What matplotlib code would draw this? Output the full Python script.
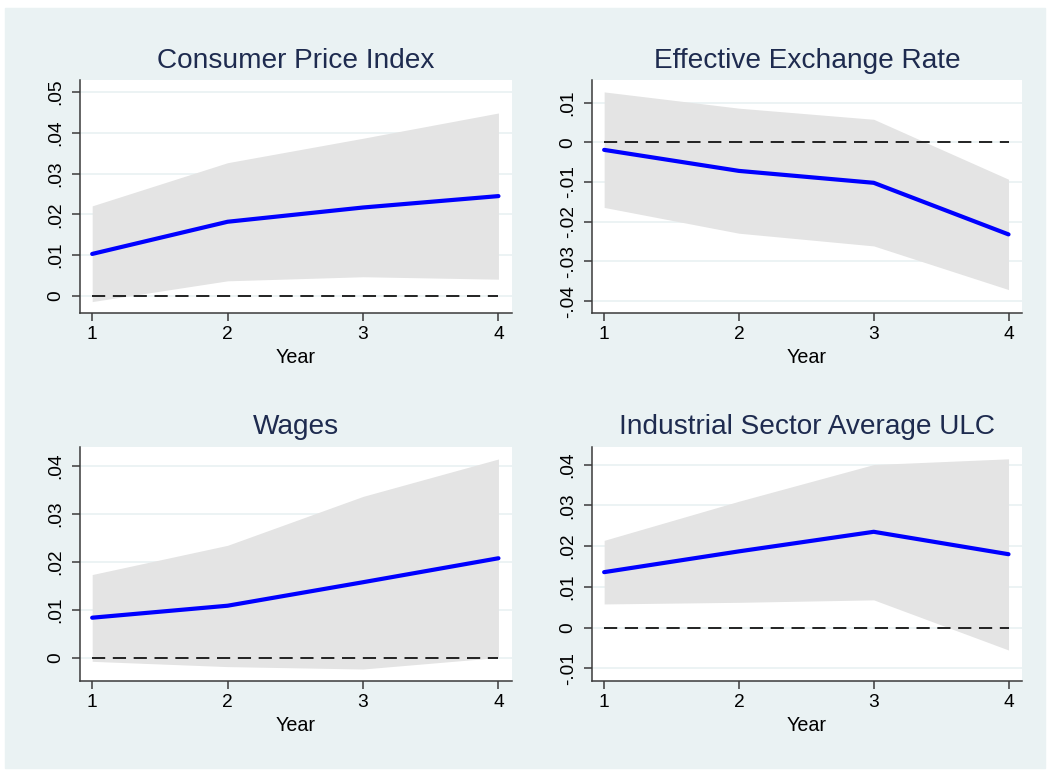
"""Impulse responses (4 panels) with confidence bands, Stata s2color look."""

import matplotlib
matplotlib.use("Agg")
import matplotlib.pyplot as plt
from matplotlib.patches import Rectangle
from matplotlib.ticker import FuncFormatter

plt.rcParams["font.family"] = ["Liberation Sans", "DejaVu Sans"]
plt.rcParams["lines.scale_dashes"] = False

years = [1, 2, 3, 4]

titles = ["Consumer Price Index", "Effective Exchange Rate",
          "Wages", "Industrial Sector Average ULC"]

cpi_irf = [0.0103, 0.0182, 0.0217, 0.0245]
cpi_lo = [-0.0014, 0.0037, 0.0047, 0.0041]
cpi_hi = [0.0221, 0.0327, 0.0387, 0.0449]

eer_irf = [-0.0019, -0.0072, -0.0102, -0.0232]
eer_lo = [-0.0164, -0.0229, -0.0261, -0.0371]
eer_hi = [0.0127, 0.0086, 0.0058, -0.0093]

wage_irf = [0.0083, 0.0108, 0.0157, 0.0207]
wage_lo = [-0.0008, -0.0019, -0.0024, 0.0000]
wage_hi = [0.0173, 0.0234, 0.0336, 0.0414]

ulc_irf = [0.0136, 0.0187, 0.0235, 0.0180]
ulc_lo = [0.0058, 0.0062, 0.0068, -0.0055]
ulc_hi = [0.0214, 0.0310, 0.0400, 0.0414]

cpi_ticks = [0, 0.01, 0.02, 0.03, 0.04, 0.05]
eer_ticks = [-0.04, -0.03, -0.02, -0.01, 0, 0.01]
wage_ticks = [0, 0.01, 0.02, 0.03, 0.04]
ulc_ticks = [-0.01, 0, 0.01, 0.02, 0.03, 0.04]

BG = "#EAF2F3"
BAND = "#E4E4E4"
TITLE_C = "#1E2B4F"
AXIS_C = "#3A3A3A"

W, H = 1050, 771


def stata_fmt(v, _pos=None):
    v = round(v, 4)
    if abs(v) < 1e-9:
        return "0"
    s = f"{v:g}"
    return s.replace("0.", ".")


def px_axes(fig, x0, y0, x1, y1):
    return fig.add_axes([x0 / W, 1 - y1 / H, (x1 - x0) / W, (y1 - y0) / H])


def panel(ax, title, irf, lo, hi, ticks, ylim):
    ax.set_facecolor("white")
    for y in ticks:
        ax.axhline(y, color=BG, lw=1.3, zorder=0)
    ax.fill_between(years, lo, hi, color=BAND, lw=0, zorder=1)
    ax.plot(years, [0] * len(years), color="black", lw=1.2,
            dashes=(9.5, 5.5), zorder=2)
    ax.plot(years, irf, color="#0000FF", lw=3.0, zorder=3,
            solid_capstyle="round")
    ax.set_xlim(0.91, 4.1)
    ax.set_ylim(*ylim)
    ax.set_xticks(years)
    ax.set_yticks(ticks)
    ax.yaxis.set_major_formatter(FuncFormatter(stata_fmt))
    for lab in ax.get_yticklabels():
        lab.set_rotation(90)
        lab.set_va("center")
    ax.tick_params(axis="both", labelsize=13.8, colors=AXIS_C,
                   labelcolor="black", width=1.1, length=6)
    ax.tick_params(axis="y", pad=5)
    ax.tick_params(axis="x", pad=3.5)
    ax.spines[["top", "right"]].set_visible(False)
    for sp in ("left", "bottom"):
        ax.spines[sp].set_color(AXIS_C)
        ax.spines[sp].set_linewidth(1.1)
    ax.set_xlabel("Year", fontsize=14.2, labelpad=3.5)
    ax.set_title(title, fontsize=20.2, color=TITLE_C, pad=9)


fig = plt.figure(figsize=(W / 100, H / 100), dpi=100)
fig.patch.set_facecolor("white")
fig.add_artist(Rectangle((5 / W, 1 - 768 / H), 1040 / W, 760 / H,
                         transform=fig.transFigure, color=BG, zorder=-10))

ax1 = px_axes(fig, 80, 80, 512, 313)
ax2 = px_axes(fig, 592, 80, 1022, 313)
ax3 = px_axes(fig, 80, 447, 512, 681)
ax4 = px_axes(fig, 592, 447, 1022, 681)

panel(ax1, titles[0], cpi_irf, cpi_lo, cpi_hi, cpi_ticks, (-0.0042, 0.053))
panel(ax2, titles[1], eer_irf, eer_lo, eer_hi, eer_ticks, (-0.043, 0.0157))
panel(ax3, titles[2], wage_irf, wage_lo, wage_hi, wage_ticks, (-0.0049, 0.0439))
panel(ax4, titles[3], ulc_irf, ulc_lo, ulc_hi, ulc_ticks, (-0.0131, 0.0443))

fig.savefig("out.png", dpi=100)
